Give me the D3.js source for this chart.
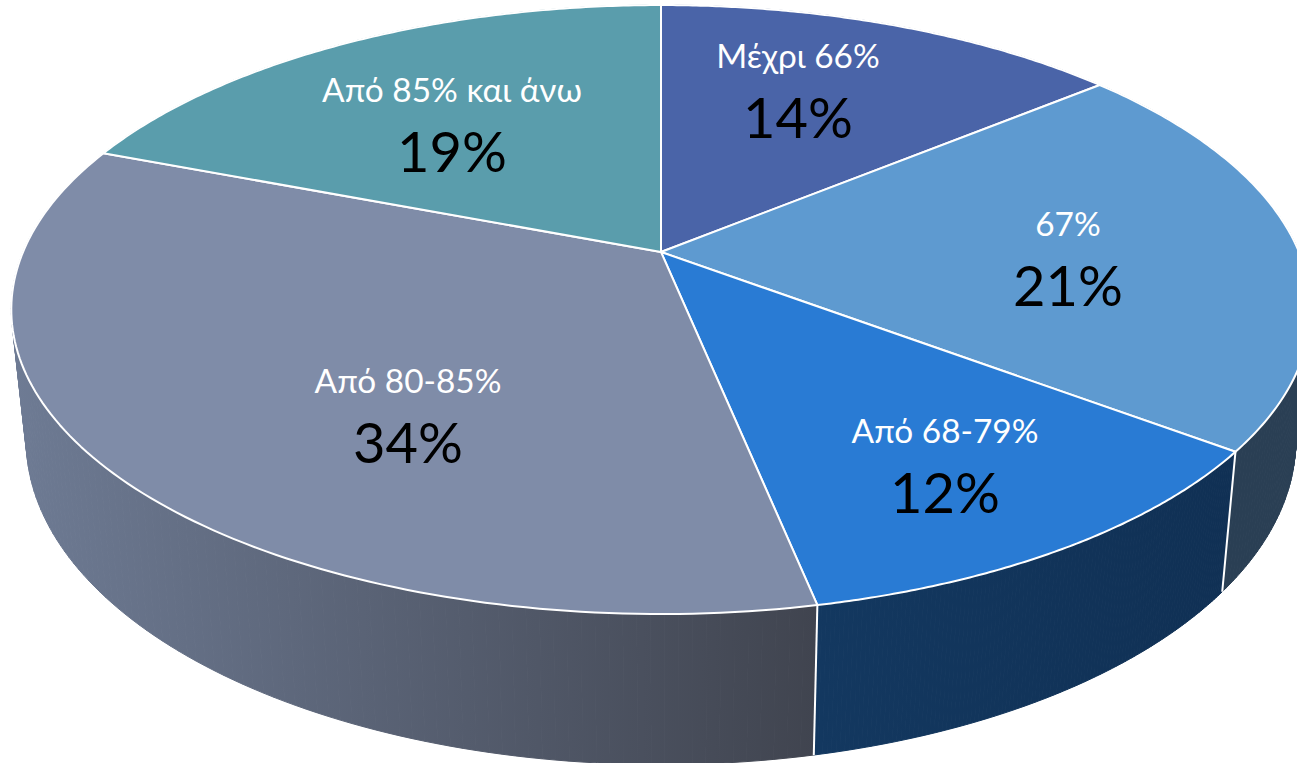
<!DOCTYPE html>
<html>
<head>
<meta charset="utf-8">
<script src="https://cdn.jsdelivr.net/npm/d3@7"></script>
<style>
html, body { margin: 0; padding: 0; background: #fff; overflow: hidden; }
text { font-family: Lato, "Open Sans", "Noto Sans", sans-serif; text-anchor: middle; }
</style>
</head>
<body>
<script>
var width = 1297, height = 763;

var categories = ["Μέχρι 66%", "67%", "Από 68-79%", "Από 80-85%", "Από 85% και άνω"];
// slice sizes as measured from the corners, the labels show them rounded
var shares = [14, 21.3, 11.5, 34.05, 19.15];
var shareLabels = ["14%", "21%", "12%", "34%", "19%"];
var topColors = ["#4a64a8", "#5e9ad0", "#297bd4", "#7f8ca8", "#5a9dac"];
var sideLeft = ["#3a4f85", "#2a3f54", "#133860", "#6e7b94", "#3f7a88"];
var sideRight = ["#2c3f6a", "#2a3f54", "#103054", "#40444f", "#3f7a88"];

// perspective of the disc, fitted by eye on the slice corners
var cx = 661, cy = 252, rx = 638, ry = 293.6, tilt = -0.189;
// the lower rim sits further from the camera
var lowX = 0.977, lowY = 1.065, lowCy = 379;
var steps = 120;

function rim(a) {
    var u = Math.sin(a), v = -Math.cos(a), w = 1 + tilt * v;
    return [cx + rx * u / w, cy + ry * v / w];
}
function lowerRim(a) {
    var p = rim(a);
    return [cx + lowX * (p[0] - cx), lowCy + lowY * (p[1] - cy)];
}
function arcPoints(f, a0, a1) {
    return d3.range(0, steps + 1).map(function(i) { return f(a0 + (a1 - a0) * i / steps); });
}

var svg = d3.select("body").append("svg")
    .attr("width", width)
    .attr("height", height)
    .style("display", "block");

var pie = d3.pie().sort(null)(shares);
var line = d3.line();

var defs = svg.append("defs");
pie.forEach(function(d, i) {
    var g = defs.append("linearGradient")
        .attr("id", "side" + i)
        .attr("gradientUnits", "userSpaceOnUse")
        .attr("x1", Math.min(rim(d.startAngle)[0], rim(d.endAngle)[0], i == 3 ? 12 : 2000))
        .attr("x2", Math.max(rim(d.startAngle)[0], rim(d.endAngle)[0]))
        .attr("y1", 0).attr("y2", 0);
    g.append("stop").attr("offset", 0).attr("stop-color", sideLeft[i]);
    g.append("stop").attr("offset", 1).attr("stop-color", sideRight[i]);
});

// side wall first, the top covers whatever faces away.
// drawn as thin strips so the outline stays right where the two rims cross
var walls = svg.append("g").selectAll("g")
    .data(pie)
    .enter().append("g")
    .attr("fill", function(d, i) { return "url(#side" + i + ")"; })
    .attr("stroke", function(d, i) { return "url(#side" + i + ")"; });

walls.selectAll("path")
    .data(function(d) {
        var da = (d.endAngle - d.startAngle) / steps;
        return d3.range(steps).map(function(j) { return d.startAngle + j * da; })
            .map(function(a) { return [a, a + da]; });
    })
    .enter().append("path")
    .attr("d", function(s) {
        return line([rim(s[0]), rim(s[1]), lowerRim(s[1]), lowerRim(s[0])]) + "Z";
    });

svg.append("g").selectAll("path")
    .data(pie)
    .enter().append("path")
    .attr("d", function(d) { return line([rim(d.startAngle), lowerRim(d.startAngle)]); })
    .attr("fill", "none")
    .attr("stroke", "#fff")
    .attr("stroke-width", 2);

svg.append("g").selectAll("path")
    .data(pie)
    .enter().append("path")
    .attr("d", function(d) {
        return line([[cx, cy]].concat(arcPoints(rim, d.startAngle, d.endAngle))) + "Z";
    })
    .attr("fill", function(d, i) { return topColors[i]; })
    .attr("stroke", "#fff")
    .attr("stroke-width", 2)
    .attr("stroke-linejoin", "round");

var labelX = d3.scaleOrdinal().domain(categories).range([798, 1068, 945, 408, 452]);
var labelY = d3.scaleOrdinal().domain(categories).range([68, 236, 443, 393, 102]);

var labels = svg.append("g").selectAll("g")
    .data(categories)
    .enter().append("g")
    .attr("transform", function(d) { return "translate(" + labelX(d) + "," + labelY(d) + ")"; });

labels.append("text")
    .attr("fill", "#fff")
    .attr("font-size", 33.4)
    .text(function(d) { return d; });

labels.append("text")
    .attr("y", 70)
    .attr("fill", "#000")
    .attr("font-size", 56)
    .text(function(d, i) { return shareLabels[i]; });
</script>
</body>
</html>
